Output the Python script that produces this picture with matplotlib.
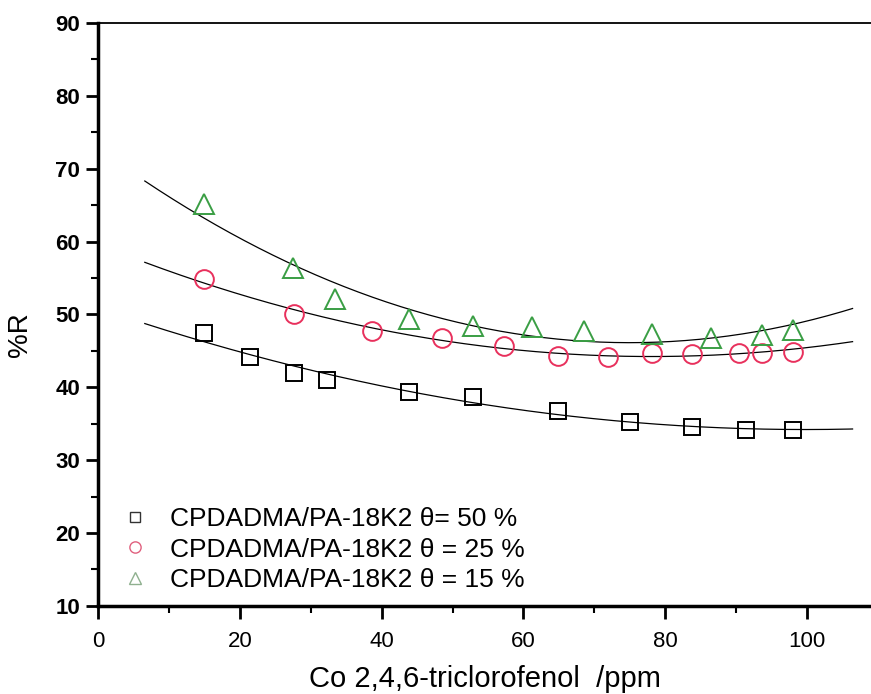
import numpy as np
import matplotlib
matplotlib.use("Agg")
import matplotlib.pyplot as plt
from matplotlib.ticker import MultipleLocator

plt.rcParams['font.family'] = ['Liberation Sans', 'DejaVu Sans']

# theta = 50 %
x50 = [14.9, 21.4, 27.6, 32.3, 43.9, 52.9, 64.9, 75.0, 83.7, 91.4, 98.0]
y50 = [47.5, 44.1, 42.0, 41.0, 39.3, 38.7, 36.7, 35.3, 34.6, 34.1, 34.1]
# theta = 25 %
x25 = [14.9, 27.6, 38.7, 48.5, 57.2, 64.9, 71.9, 78.1, 83.8, 90.4, 93.7, 98.0]
y25 = [54.8, 50.1, 47.7, 46.7, 45.6, 44.3, 44.2, 44.7, 44.6, 44.7, 44.7, 44.9]
# theta = 15 %
x15 = [14.9, 27.5, 33.4, 43.8, 52.9, 61.2, 68.5, 78.1, 86.5, 93.7, 98.0]
y15 = [65.1, 56.3, 52.1, 49.3, 48.4, 48.2, 47.7, 47.3, 46.7, 47.2, 47.9]

labels = ["CPDADMA/PA-18K2 \u03b8= 50 %",
          "CPDADMA/PA-18K2 \u03b8 = 25 %",
          "CPDADMA/PA-18K2 \u03b8 = 15 %"]

fig = plt.figure(figsize=(8.71, 6.94), dpi=100)
ax = fig.add_axes([0.1125, 0.127, 0.8875, 0.84])

xfit = np.linspace(6.6, 106.4, 200)
series = [(x50, y50, 's', 'black', 11, '#333333'),
          (x25, y25, 'o', '#e8305c', 13.5, '#e0607e'),
          (x15, y15, '^', '#3a9e44', 15, '#8fb08f')]
handles = []
for (xs, ys, mk, col, ms, lcol), lab in zip(series, labels):
    # quadratic fit, like the original
    c = np.polyfit(xs, ys, 2)
    ax.plot(xfit, np.polyval(c, xfit), color='black', lw=0.9)
    ax.plot(xs, ys, linestyle='none', marker=mk, ms=ms, mfc='none',
            mec=col, mew=1.4)
    h, = ax.plot([], [], linestyle='none', marker=mk, ms=ms * 0.6,
                 mfc='none', mec=lcol, mew=1.0, label=lab)
    handles.append(h)

ax.set_xlim(0, 109)
ax.set_ylim(10, 90)
ax.xaxis.set_major_locator(MultipleLocator(20))
ax.xaxis.set_minor_locator(MultipleLocator(10))
ax.yaxis.set_major_locator(MultipleLocator(10))
ax.yaxis.set_minor_locator(MultipleLocator(5))
ax.tick_params(which='major', direction='out', length=9, width=2,
               labelsize=16)
ax.tick_params(axis='x', which='major', pad=9)
ax.tick_params(axis='y', which='major', pad=4)
ax.tick_params(which='minor', direction='out', length=5, width=1.5)
for lab in ax.get_yticklabels():
    lab.set_fontweight('bold')

ax.spines['right'].set_visible(False)
ax.spines['left'].set_linewidth(2.5)
ax.spines['bottom'].set_linewidth(2.5)
ax.spines['top'].set_linewidth(1.3)

ax.set_xlabel("Co 2,4,6-triclorofenol  /ppm", fontsize=21)
ax.xaxis.set_label_coords(0.5, -0.101)
ax.set_ylabel("%R", fontsize=20)
ax.yaxis.set_label_coords(-0.084, 0.465)

ax.legend(handles=handles, loc='upper left', bbox_to_anchor=(0.035, 0.170),
          frameon=False, fontsize=19, handletextpad=0.95, borderpad=0,
          borderaxespad=0, labelspacing=0.26, handlelength=0.76)

plt.savefig("out.png", dpi=100)
